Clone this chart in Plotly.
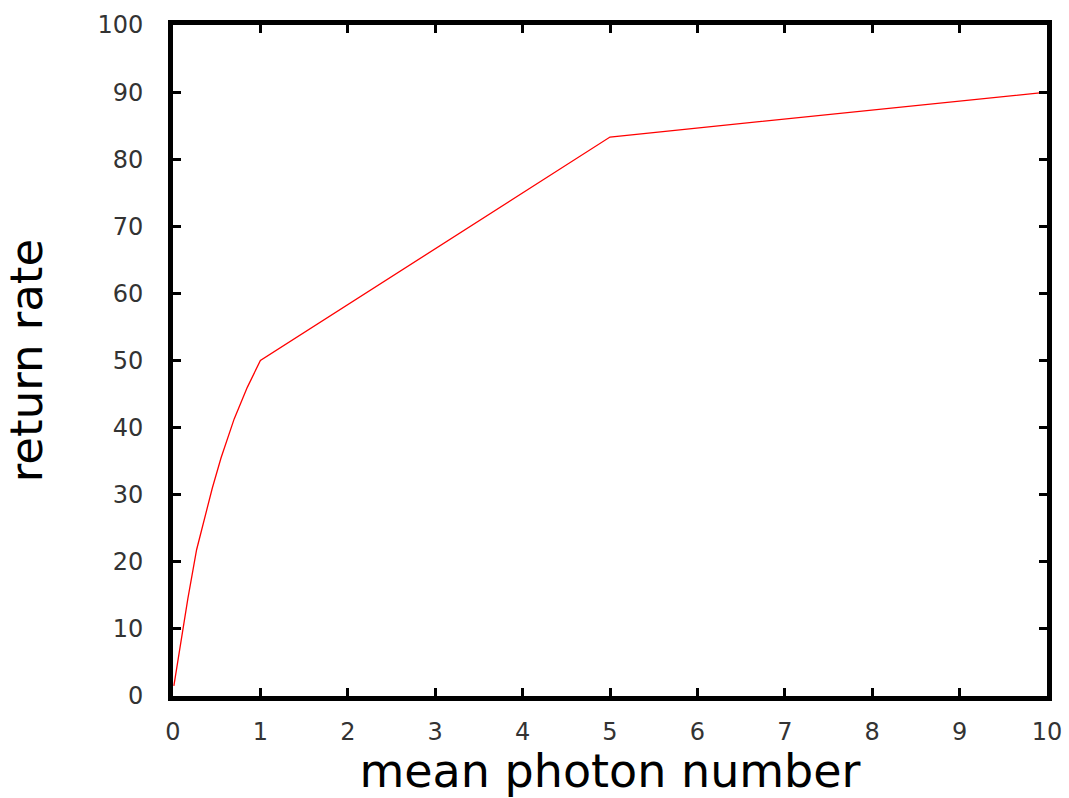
import plotly.graph_objects as go

mean_photon = [0.01, 0.07, 0.17, 0.27, 0.45, 0.55, 0.7, 0.85, 1.0, 5.0, 10.0]
return_rate = [1.5, 6.5, 14.5, 21.8, 31.0, 35.5, 41.3, 46.0, 50.0, 83.3, 90.0]

x_ticks = [0, 1, 2, 3, 4, 5, 6, 7, 8, 9, 10]
y_ticks = [0, 10, 20, 30, 40, 50, 60, 70, 80, 90, 100]

fig = go.Figure()
fig.add_trace(go.Scatter(x=mean_photon, y=return_rate, mode="lines",
                         line=dict(color="#ff0000", width=1.3), showlegend=False))

axis_common = dict(showgrid=False, zeroline=False, showline=True, linecolor="black",
                   linewidth=5, mirror="allticks", ticks="inside", ticklen=8,
                   tickwidth=3, tickcolor="black", automargin=False,
                   tickfont=dict(family="DejaVu Sans", size=24, color="#333333"))

fig.update_xaxes(range=[0, 10], tickvals=x_ticks, ticktext=[str(v) for v in x_ticks],
                 ticklabelstandoff=10,
                 title=dict(text="mean photon number", font=dict(family="DejaVu Sans", size=46, color="black"),
                            standoff=1),
                 **axis_common)
fig.update_yaxes(range=[0, 100], tickvals=y_ticks, ticktext=[str(v) for v in y_ticks],
                 ticklabelstandoff=20,
                 title=dict(text="return rate", font=dict(family="DejaVu Sans", size=45, color="black"),
                            standoff=42),
                 **axis_common)

fig.update_layout(width=1069, height=798, margin=dict(l=173, r=22, t=25, b=102),
                  plot_bgcolor="white", paper_bgcolor="white")

fig.write_html("out.html")
